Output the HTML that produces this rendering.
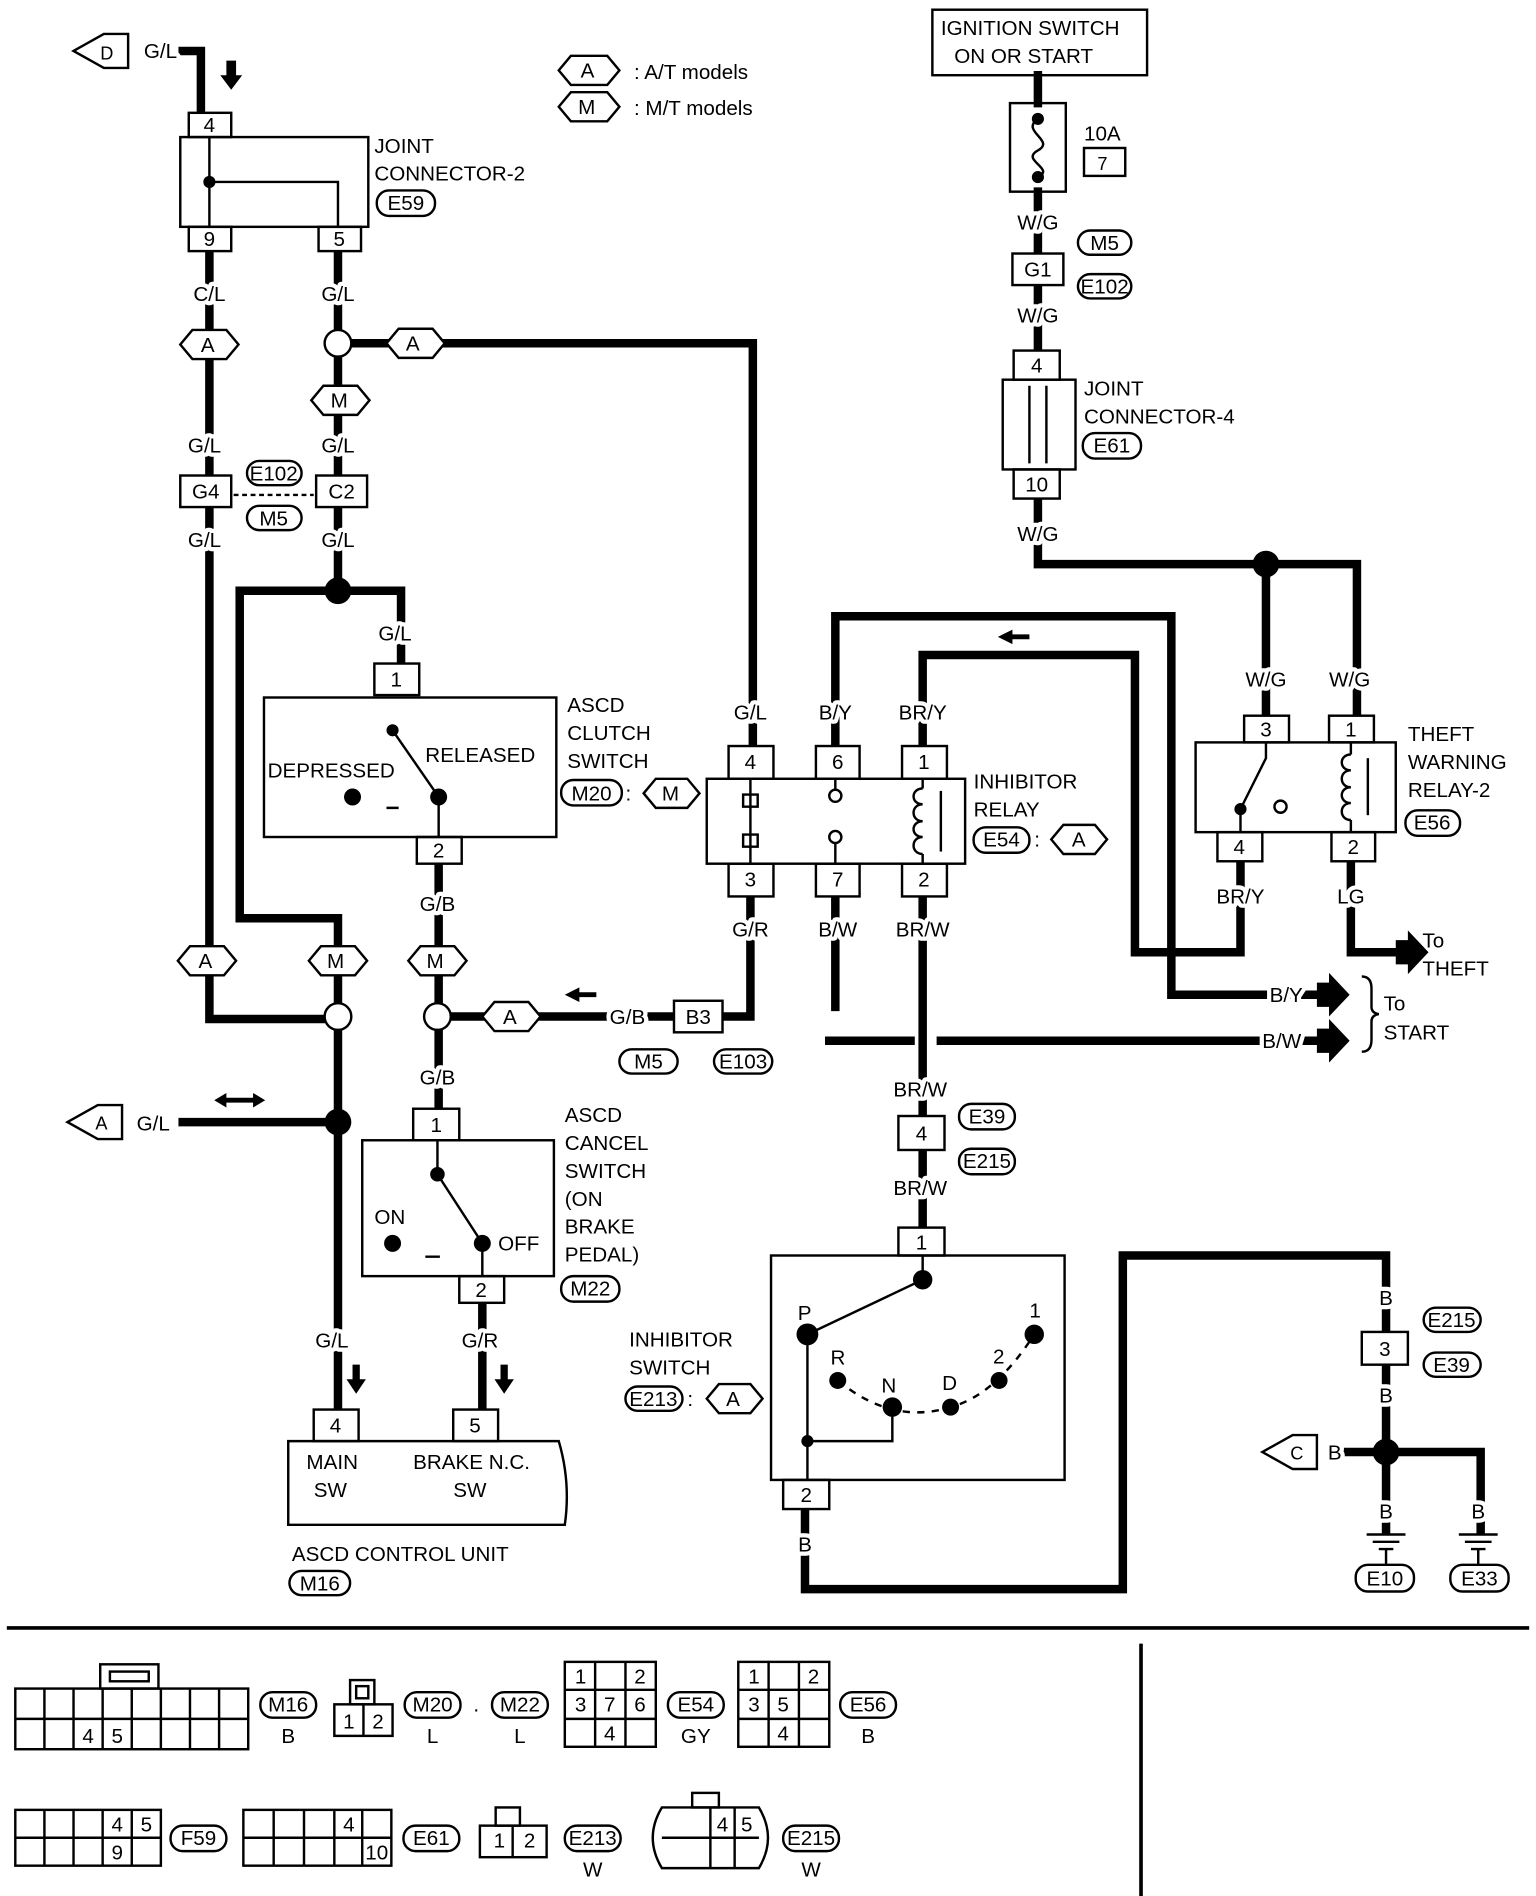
<!DOCTYPE html>
<html><head><meta charset="utf-8"><style>
html,body{margin:0;padding:0;background:#fff;}
svg{display:block;}
text{font-family:"Liberation Sans",sans-serif;font-size:17px;fill:#000;}
.h text, text.h{stroke:#fff;stroke-width:7px;paint-order:stroke;stroke-linejoin:round;}
.w{stroke:#000;stroke-width:7;fill:none;stroke-linecap:square;}
.t{stroke:#000;stroke-width:2;fill:none;}
.b{stroke:#000;stroke-width:2;fill:#fff;}
.s{font-size:15px;}
</style></head><body>
<svg width="1536" height="1896" viewBox="0 0 1265 1563" xmlns="http://www.w3.org/2000/svg">
<!-- wires -->
<path class="w" d="M150 42H165V92"/>
<path class="w" d="M172 207V840H268"/>
<path class="w" d="M278 207V272"/>
<path class="w" d="M290 283H620V613"/>
<path class="w" d="M278 294V487"/>
<path class="w" d="M197 487H330V545"/>
<path class="w" d="M197 487V757H278V827"/>
<path class="w" d="M278 849V1160"/>
<path class="w" d="M150 925H278"/>
<path class="w" d="M361 712V827"/>
<path class="w" d="M372 838H555"/>
<path class="w" d="M595 838H618V740"/>
<path class="w" d="M361 849V912"/>
<path class="w" d="M397 1075V1160"/>
<path class="w" d="M688 613V508H965V820H1085"/>
<path class="w" d="M760 613V540H935V785H1022V712"/>
<path class="w" d="M688 740V830"/>
<path class="w" d="M683 858H750M775 858H1085"/>
<path class="w" d="M760 740V920"/>
<path class="w" d="M760 948V1010"/>
<path class="w" d="M855 62V85M855 158V207M855 237V287M855 412V465H1118V590M1043 465V590"/>
<path class="w" d="M1113 712V785H1150"/>
<path class="w" d="M663 1248V1310H925V1035H1142V1098"/>
<path class="w" d="M1142 1125V1262M1100 1197H1220V1262"/>
<!-- dots/circles -->
<circle cx="172" cy="150" r="5"/>
<circle cx="278" cy="487" r="11"/>
<circle cx="278" cy="925" r="11"/>
<circle cx="1043" cy="465" r="11"/>
<circle cx="1142" cy="1197" r="11"/>
<circle class="b" cx="278" cy="283" r="11"/>
<circle class="b" cx="278" cy="838" r="11"/>
<circle class="b" cx="360" cy="838" r="11"/>
<!-- arrows -->
<path d="M186 50h8v12h5l-9 12-9-12h5z"/>
<path d="M290 1125h6v12h5l-8 12-8-12h5z"/>
<path d="M412 1125h6v12h5l-8 12-8-12h5z"/>
<path d="M176 907l10-6v4h22v-4l10 6-10 6v-4h-22v4z"/>
<path d="M465 820l12-6v4h14v4h-14v4z"/>
<path d="M822 525l12-6v4h14v4h-14v4z"/>
<path d="M1085 810h10v-8l17 18-17 18v-8h-10z"/>
<path d="M1085 848h10v-8l17 18-17 18v-8h-10z"/>
<path d="M1150 775h10v-8l17 18-17 18v-8h-10z"/>
<!-- pentagons -->
<polygon class="b" points="60,42 85,28 105,28 105,56 85,56"/><text x="82" y="49" class="s">D</text>
<polygon class="b" points="55,925 80,911 100,911 100,939 80,939"/><text x="78" y="931" class="s">A</text>
<polygon class="b" points="1040,1197 1065,1183 1085,1183 1085,1211 1065,1211"/><text x="1063" y="1203" class="s">C</text>
<text x="118" y="48" class="h">G/L</text><text x="112" y="932" class="h">G/L</text><text x="1094" y="1203" class="h">B</text>
<!-- hexagons -->
<g class="b">
<polygon points="148,284 158,272 186,272 196,284 186,296 158,296"/>
<polygon points="318,283 328,271 356,271 366,283 356,295 328,295"/>
<polygon points="256,330 266,318 294,318 304,330 294,342 266,342"/>
<polygon points="146,792 156,780 184,780 194,792 184,804 156,804"/>
<polygon points="254,792 264,780 292,780 302,792 292,804 264,804"/>
<polygon points="336,792 346,780 374,780 384,792 374,804 346,804"/>
<polygon points="397,838 407,826 435,826 445,838 435,850 407,850"/>
<polygon points="530,654 540,642 566,642 576,654 566,666 540,666"/>
<polygon points="866,692 876,680 902,680 912,692 902,704 876,704"/>
<polygon points="582,1153 592,1141 618,1141 628,1153 618,1165 592,1165"/>
<polygon points="460,58 470,46 500,46 510,58 500,70 470,70"/>
<polygon points="460,88 470,76 500,76 510,88 500,100 470,100"/>
</g>
<g class="s">
<text x="165" y="290">A</text><text x="334" y="289">A</text><text x="272" y="336">M</text>
<text x="163" y="798">A</text><text x="269" y="798">M</text><text x="351" y="798">M</text>
<text x="414" y="844">A</text><text x="545" y="660">M</text><text x="883" y="698">A</text>
<text x="598" y="1159">A</text><text x="478" y="64">A</text><text x="476" y="94">M</text>
</g>
<text x="522" y="65">: A/T models</text><text x="522" y="95">: M/T models</text>
<!-- connector tabs -->
<g class="b">
<rect x="155" y="93" width="35" height="20"/><rect x="155" y="187" width="35" height="20"/><rect x="262" y="187" width="35" height="20"/>
<rect x="148" y="392" width="42" height="26"/><rect x="260" y="392" width="42" height="26"/>
<rect x="308" y="547" width="37" height="26"/><rect x="343" y="690" width="37" height="22"/>
<rect x="340" y="914" width="38" height="26"/><rect x="378" y="1052" width="37" height="22"/>
<rect x="258" y="1162" width="37" height="26"/><rect x="373" y="1162" width="37" height="26"/>
<rect x="555" y="825" width="40" height="26"/>
<rect x="600" y="615" width="37" height="27"/><rect x="672" y="615" width="36" height="27"/><rect x="743" y="615" width="37" height="27"/>
<rect x="600" y="712" width="37" height="27"/><rect x="672" y="712" width="36" height="27"/><rect x="743" y="712" width="37" height="27"/>
<rect x="1025" y="590" width="37" height="22"/><rect x="1095" y="590" width="37" height="22"/>
<rect x="1003" y="686" width="37" height="24"/><rect x="1097" y="686" width="36" height="24"/>
<rect x="834" y="209" width="42" height="26"/><rect x="835" y="289" width="38" height="24"/><rect x="835" y="387" width="38" height="24"/>
<rect x="740" y="920" width="38" height="28"/><rect x="740" y="1012" width="38" height="23"/><rect x="645" y="1220" width="38" height="24"/>
<rect x="1122" y="1098" width="38" height="27"/>
</g>
<g class="s" text-anchor="middle">
<text x="172" y="109">4</text><text x="172" y="203">9</text><text x="279" y="203">5</text>
<text x="169" y="411">G4</text><text x="281" y="411">C2</text>
<text x="326" y="566">1</text><text x="361" y="707">2</text><text x="359" y="933">1</text><text x="396" y="1069">2</text>
<text x="276" y="1181">4</text><text x="391" y="1181">5</text><text x="575" y="844">B3</text>
<text x="618" y="634">4</text><text x="690" y="634">6</text><text x="761" y="634">1</text>
<text x="618" y="731">3</text><text x="690" y="731">7</text><text x="761" y="731">2</text>
<text x="1043" y="607">3</text><text x="1113" y="607">1</text><text x="1021" y="704">4</text><text x="1115" y="704">2</text>
<text x="855" y="228">G1</text><text x="854" y="307">4</text><text x="854" y="405">10</text>
<text x="759" y="940">4</text><text x="759" y="1030">1</text><text x="664" y="1238">2</text><text x="1141" y="1118">3</text>
</g>
<path d="M192 408H258" stroke="#000" stroke-width="2" stroke-dasharray="4 3"/>
<!-- ovals -->
<g class="b">
<rect x="310" y="157" width="48" height="21" rx="10"/><rect x="203" y="380" width="45" height="20" rx="10"/><rect x="203" y="417" width="45" height="20" rx="10"/>
<rect x="462" y="643" width="50" height="21" rx="10"/><rect x="462" y="1052" width="48" height="21" rx="10"/><rect x="238" y="1295" width="50" height="20" rx="10"/>
<rect x="510" y="865" width="48" height="20" rx="10"/><rect x="588" y="865" width="48" height="20" rx="10"/>
<rect x="802" y="682" width="46" height="21" rx="10"/><rect x="1158" y="668" width="45" height="21" rx="10"/>
<rect x="888" y="190" width="44" height="20" rx="10"/><rect x="888" y="226" width="44" height="20" rx="10"/><rect x="892" y="357" width="48" height="21" rx="10"/>
<rect x="790" y="910" width="46" height="21" rx="10"/><rect x="790" y="947" width="46" height="21" rx="10"/>
<rect x="515" y="1143" width="47" height="20" rx="10"/><rect x="1173" y="1078" width="47" height="20" rx="10"/><rect x="1173" y="1115" width="47" height="20" rx="10"/>
<rect x="1117" y="1290" width="48" height="22" rx="10"/><rect x="1195" y="1290" width="48" height="22" rx="10"/>
</g>
<g class="s" text-anchor="middle">
<text x="334" y="173">E59</text><text x="225" y="396">E102</text><text x="225" y="433">M5</text>
<text x="487" y="660">M20</text><text x="486" y="1068">M22</text><text x="263" y="1311">M16</text>
<text x="534" y="881">M5</text><text x="612" y="881">E103</text><text x="825" y="698">E54</text><text x="1180" y="684">E56</text>
<text x="910" y="206">M5</text><text x="910" y="242">E102</text><text x="916" y="373">E61</text>
<text x="813" y="926">E39</text><text x="813" y="963">E215</text><text x="538" y="1159">E213</text>
<text x="1196" y="1094">E215</text><text x="1196" y="1131">E39</text><text x="1141" y="1307">E10</text><text x="1219" y="1307">E33</text>
</g>
<text x="515" y="660">:</text><text x="852" y="698">:</text><text x="566" y="1159">:</text>
<!-- joint connector 2 -->
<rect class="t" x="148" y="113" width="155" height="74"/>
<path class="t" d="M172 113V187M172 150H278V187"/>
<text x="308" y="126">JOINT</text><text x="308" y="149">CONNECTOR-2</text>
<!-- wire labels -->
<g text-anchor="middle" class="h">
<text x="172" y="248">C/L</text><text x="278" y="248">G/L</text><text x="168" y="373">G/L</text><text x="278" y="373">G/L</text>
<text x="168" y="451">G/L</text><text x="278" y="451">G/L</text><text x="325" y="528">G/L</text>
<text x="360" y="751">G/B</text><text x="360" y="894">G/B</text><text x="273" y="1111">G/L</text><text x="395" y="1111">G/R</text>
<text x="618" y="593">G/L</text><text x="688" y="593">B/Y</text><text x="760" y="593">BR/Y</text>
<text x="618" y="772">G/R</text><text x="690" y="772">B/W</text><text x="760" y="772">BR/W</text>
<text x="1043" y="566">W/G</text><text x="1112" y="566">W/G</text><text x="1022" y="745">BR/Y</text><text x="1113" y="745">LG</text>
<text x="855" y="189">W/G</text><text x="855" y="266">W/G</text><text x="855" y="446">W/G</text>
<text x="758" y="904">BR/W</text><text x="758" y="985">BR/W</text><text x="663" y="1279">B</text>
<text x="1142" y="1076">B</text><text x="1142" y="1156">B</text><text x="1142" y="1252">B</text><text x="1218" y="1252">B</text>
</g>
<g class="h"><text x="502" y="844">G/B</text><text x="1046" y="826">B/Y</text><text x="1040" y="864">B/W</text></g>
<!-- clutch switch -->
<rect class="t" x="217" y="575" width="241" height="115"/>
<circle cx="323" cy="602" r="5"/><circle cx="361" cy="657" r="7"/><circle cx="290" cy="657" r="7"/>
<path class="t" d="M323 602L361 657M361 657V690M318 666H328"/>
<text x="220" y="641">DEPRESSED</text><text x="350" y="628">RELEASED</text>
<text x="467" y="587">ASCD</text><text x="467" y="610">CLUTCH</text><text x="467" y="633">SWITCH</text>
<!-- cancel switch -->
<rect class="t" x="298" y="940" width="158" height="112"/>
<circle cx="360" cy="968" r="6"/><circle cx="397" cy="1025" r="7"/><circle cx="323" cy="1025" r="7"/>
<path class="t" d="M360 940V968L397 1025V1052M350 1036H362"/>
<text x="308" y="1009">ON</text><text x="410" y="1031">OFF</text>
<text x="465" y="925">ASCD</text><text x="465" y="948">CANCEL</text><text x="465" y="971">SWITCH</text><text x="465" y="994">(ON</text><text x="465" y="1017">BRAKE</text><text x="465" y="1040">PEDAL)</text>
<!-- control unit -->
<path class="t" d="M237 1188H460Q470 1222 465 1257H237Z"/>
<text x="252" y="1211">MAIN</text><text x="258" y="1234">SW</text><text x="340" y="1211">BRAKE N.C.</text><text x="373" y="1234">SW</text>
<text x="240" y="1287">ASCD CONTROL UNIT</text>
<!-- inhibitor relay -->
<rect class="t" x="582" y="642" width="213" height="70"/>
<path class="t" d="M618 642V712M612 655h12v10h-12zM612 688h12v10h-12z"/>
<circle class="b" cx="688" cy="656" r="5"/><circle class="b" cx="688" cy="690" r="5"/>
<path class="t" d="M688 642V651M688 695V712M760 642V650M760 704V712"/>
<path class="t" d="M760 650c-10 0-10 13 0 13c-10 0-10 14 0 14c-10 0-10 13 0 13c-10 0-10 14 0 14"/>
<path class="t" d="M775 652V702"/>
<text x="802" y="650">INHIBITOR</text><text x="802" y="673">RELAY</text>
<!-- theft relay -->
<rect class="t" x="985" y="612" width="165" height="74"/>
<path class="t" d="M1043 612V625L1022 667V686M1113 612V622M1113 676V686"/>
<circle cx="1022" cy="667" r="5"/><circle class="b" cx="1055" cy="665" r="5"/>
<path class="t" d="M1113 622c-10 0-10 13 0 13c-10 0-10 14 0 14c-10 0-10 13 0 13c-10 0-10 14 0 14"/>
<path class="t" d="M1127 625V672"/>
<text x="1160" y="611">THEFT</text><text x="1160" y="634">WARNING</text><text x="1160" y="657">RELAY-2</text>
<text x="1172" y="781">To</text><text x="1172" y="804">THEFT</text>
<path class="t" d="M1122 805q8 0 8 10v15q0 5 6 6q-6 1-6 6v15q0 10-8 10"/>
<text x="1140" y="833">To</text><text x="1140" y="857">START</text>
<!-- ignition -->
<rect class="t" x="768" y="8" width="177" height="54"/>
<text x="775" y="29">IGNITION SWITCH</text><text x="786" y="52">ON OR START</text>
<rect class="t" x="832" y="85" width="46" height="73"/>
<circle cx="855" cy="98" r="5"/><circle cx="855" cy="146" r="5"/>
<path class="t" d="M855 98c-15 10 15 18 0 26c-15 8 15 15 0 22"/>
<text x="893" y="116">10A</text><rect class="t" x="893" y="122" width="34" height="23"/><text x="904" y="140" class="s">7</text>
<rect class="t" x="826" y="313" width="60" height="74"/><path class="t" d="M848 318V382M862 318V382"/>
<text x="893" y="326">JOINT</text><text x="893" y="349">CONNECTOR-4</text>
<!-- inhibitor switch -->
<rect class="t" x="635" y="1035" width="242" height="185"/>
<path class="t" d="M760 1035V1055L665 1100V1220M665 1188H735V1160"/>
<circle cx="760" cy="1055" r="8"/><circle cx="665" cy="1100" r="9"/><circle cx="665" cy="1188" r="5"/>
<circle cx="690" cy="1138" r="7"/><circle cx="735" cy="1160" r="8"/><circle cx="783" cy="1160" r="7"/><circle cx="823" cy="1138" r="7"/><circle cx="852" cy="1100" r="8"/>
<path d="M690 1138Q735 1175 783 1160Q820 1150 852 1100" stroke="#000" stroke-width="2" fill="none" stroke-dasharray="6 6"/>
<g class="s"><text x="657" y="1088">P</text><text x="684" y="1125">R</text><text x="726" y="1148">N</text><text x="776" y="1146">D</text><text x="818" y="1124">2</text><text x="848" y="1086">1</text></g>
<text x="518" y="1110">INHIBITOR</text><text x="518" y="1133">SWITCH</text>
<!-- grounds -->
<path class="t" d="M1126 1265h32M1131 1271h22M1136 1277h12M1202 1265h32M1207 1271h22M1212 1277h12"/>
<path class="t" d="M1142 1277V1290M1218 1277V1290"/>
<!-- bottom -->
<path d="M5 1342H1260M940 1355V1563" stroke="#000" stroke-width="3"/>
<g class="t">
<rect x="12" y="1392" width="192" height="50"/><path d="M12 1417H204M36 1392V1442M60 1392V1442M84 1392V1442M108 1392V1442M132 1392V1442M156 1392V1442M180 1392V1442"/>
<rect x="82" y="1372" width="48" height="20"/><rect x="90" y="1378" width="32" height="8"/>
<rect x="275" y="1405" width="48" height="26"/><rect x="288" y="1385" width="20" height="20"/><rect x="293" y="1390" width="10" height="10"/><path d="M299 1405V1431"/>
<rect x="465" y="1370" width="75" height="70"/><path d="M465 1393H540M465 1417H540M490 1370V1440M515 1370V1440"/>
<rect x="608" y="1370" width="75" height="70"/><path d="M608 1393H683M608 1417H683M633 1370V1440M658 1370V1440"/>
<rect x="12" y="1492" width="120" height="46"/><path d="M12 1515H132M36 1492V1538M60 1492V1538M84 1492V1538M108 1492V1538"/>
<rect x="200" y="1492" width="122" height="46"/><path d="M200 1515H322M225 1492V1538M250 1492V1538M275 1492V1538M298 1492V1538"/>
<rect x="395" y="1505" width="55" height="26"/><rect x="408" y="1490" width="20" height="15"/><path d="M422 1505V1531"/>
<path d="M545 1490H625Q640 1515 625 1540H545Q530 1515 545 1490Z"/><rect x="570" y="1478" width="22" height="12"/><path d="M585 1490V1540M605 1490V1540M545 1515H625"/>
</g>
<g class="s" text-anchor="middle">
<text x="72" y="1437">4</text><text x="96" y="1437">5</text><text x="287" y="1425">1</text><text x="311" y="1425">2</text>
<text x="478" y="1388">1</text><text x="527" y="1388">2</text><text x="478" y="1411">3</text><text x="502" y="1411">7</text><text x="527" y="1411">6</text><text x="502" y="1435">4</text>
<text x="621" y="1388">1</text><text x="670" y="1388">2</text><text x="621" y="1411">3</text><text x="645" y="1411">5</text><text x="645" y="1435">4</text>
<text x="96" y="1510">4</text><text x="120" y="1510">5</text><text x="96" y="1533">9</text><text x="287" y="1510">4</text><text x="310" y="1533">10</text>
<text x="411" y="1523">1</text><text x="436" y="1523">2</text><text x="595" y="1510">4</text><text x="615" y="1510">5</text>
</g>
<g class="b">
<rect x="214" y="1395" width="46" height="21" rx="10"/><rect x="333" y="1395" width="46" height="21" rx="10"/><rect x="405" y="1395" width="46" height="21" rx="10"/>
<rect x="550" y="1395" width="46" height="21" rx="10"/><rect x="692" y="1395" width="46" height="21" rx="10"/>
<rect x="140" y="1505" width="46" height="21" rx="10"/><rect x="332" y="1505" width="46" height="21" rx="10"/><rect x="465" y="1505" width="46" height="21" rx="10"/><rect x="645" y="1505" width="46" height="21" rx="10"/>
</g>
<g class="s" text-anchor="middle">
<text x="237" y="1411">M16</text><text x="356" y="1411">M20</text><text x="428" y="1411">M22</text><text x="573" y="1411">E54</text><text x="715" y="1411">E56</text>
<text x="163" y="1521">F59</text><text x="355" y="1521">E61</text><text x="488" y="1521">E213</text><text x="668" y="1521">E215</text>
<text x="237" y="1437">B</text><text x="356" y="1437">L</text><text x="428" y="1437">L</text><text x="573" y="1437">GY</text><text x="715" y="1437">B</text>
<text x="488" y="1547">W</text><text x="668" y="1547">W</text><text x="392" y="1411">.</text>
</g>
</svg>
</body></html>
